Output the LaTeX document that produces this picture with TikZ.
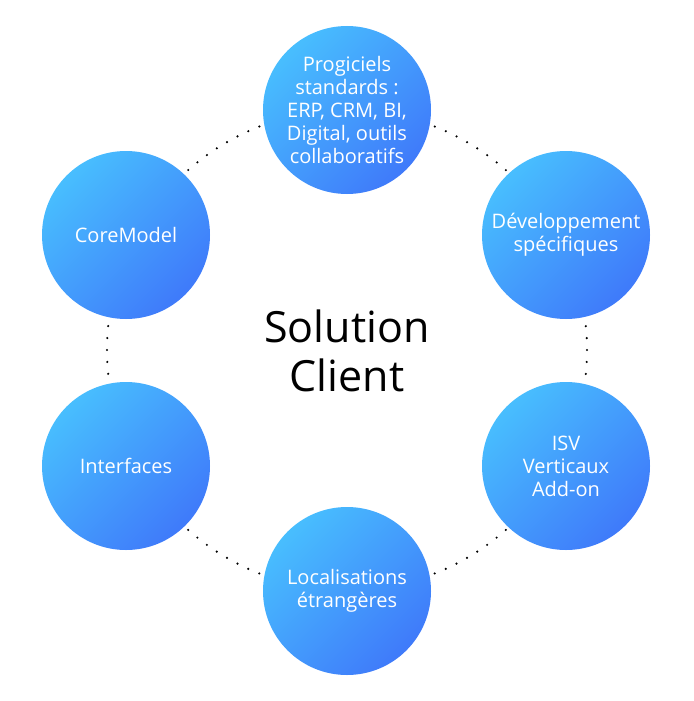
\documentclass[tikz,border=0pt]{standalone}
\usepackage{fontspec}
\setmainfont{Open Sans}
\begin{document}
\begin{tikzpicture}[x=1pt,y=-1pt,
  bubble/.style={circle, minimum size=168pt, inner sep=0pt, text=white,
    top color=cLight, bottom color=cDark, shading angle=45,
    font=\fontsize{20}{23}\selectfont, align=center},
  orbit/.style={line width=2.4pt, line cap=round, dash pattern=on 0pt off 11.97pt, black}]
\definecolor{cLight}{HTML}{48BEFE}
\definecolor{cDark}{HTML}{3F7AFA}
\useasboundingbox (0,0) rectangle (693,701);
\coordinate (ctr) at (347,350);
\draw[orbit] (ctr) circle[radius=240];
\node[bubble] (prog) at (347,110) {Progiciels\\standards :\\ERP, CRM, BI,\\Digital, outils\\collaboratifs};
\node[bubble] (core) at (126,235) {CoreModel};
\node[bubble] (dev) at (566,235) {Développement\\spécifiques};
\node[bubble] (intf) at (126,466) {Interfaces};
\node[bubble] (isv) at (566,466) {ISV\\Verticaux\\Add-on};
\node[bubble] (loc) at (347,591) {Localisations\\étrangères};
\node[font=\fontsize{43}{49}\selectfont, align=center, text=black] (sol) at (347,351) {Solution\\Client};
\end{tikzpicture}
\end{document}
